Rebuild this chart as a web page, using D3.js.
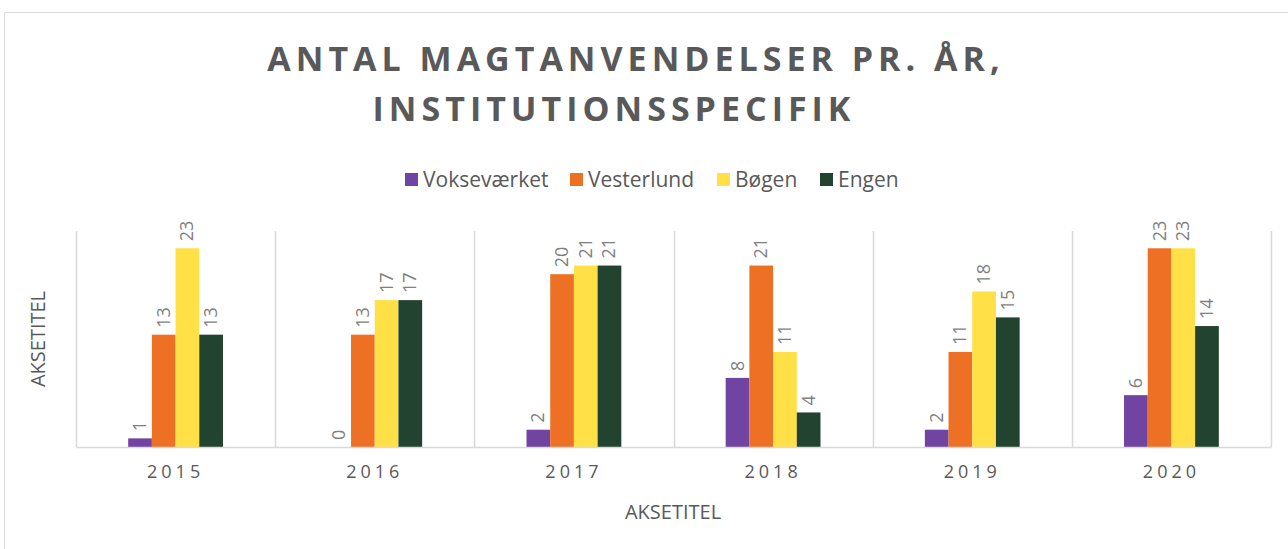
<!DOCTYPE html>
<html>
<head>
<meta charset="utf-8">
<script src="https://cdn.jsdelivr.net/npm/d3@7"></script>
<style>
  body { margin: 0; background: white; }
  text { font-family: "Open Sans", "Liberation Sans", sans-serif; }
</style>
</head>
<body>
<div id="vis"></div>
<script>
var width = 1288;
var height = 549;

var years = ["2015", "2016", "2017", "2018", "2019", "2020"];
var seriesNames = ["Vokseværket", "Vesterlund", "Bøgen", "Engen"];
var vokse = [1, 0, 2, 8, 2, 6];
var vester = [13, 13, 20, 21, 11, 23];
var bogen = [23, 17, 21, 11, 18, 23];
var engen = [13, 17, 21, 4, 15, 14];
var colors = ["#7044a0", "#ee7024", "#ffe046", "#22432f"];

var seriesValues = [vokse, vester, bogen, engen];

var svg = d3.select("#vis")
  .append("svg")
  .attr("width", width)
  .attr("height", height)
  .style("background-color", "white");

// chart frame (cropped)
svg.append("path")
  .attr("d", "M4.5," + height + " L4.5,12.5 L" + width + ",12.5")
  .attr("fill", "none")
  .attr("stroke", "#d9d9d9")
  .attr("stroke-width", 1);

// title
var title = svg.append("text")
  .attr("text-anchor", "middle")
  .attr("fill", "#595959")
  .style("font-size", "34px")
  .style("font-weight", "bold")
  .style("letter-spacing", "5px");
title.append("tspan").attr("x", 636).attr("y", 71).text("ANTAL MAGTANVENDELSER PR. ÅR,");
title.append("tspan").attr("x", 614).attr("y", 121).text("INSTITUTIONSSPECIFIK");

// legend
var legendX = [405, 570, 717, 820];
var legend = svg.selectAll(".legend")
  .data(seriesNames)
  .join("g")
  .attr("class", "legend")
  .attr("transform", (d, i) => `translate(${legendX[i]}, 180)`);
legend.append("rect")
  .attr("x", 0).attr("y", -7)
  .attr("width", 13).attr("height", 13)
  .attr("fill", (d, i) => colors[i]);
legend.append("text")
  .attr("x", 18).attr("y", 7)
  .attr("fill", "#595959")
  .style("font-size", "21px")
  .text(d => d);

// scales
var plotLeft = 76, plotRight = 1271, plotTop = 231, plotBottom = 447;
var x = d3.scaleBand().domain(years).range([plotLeft, plotRight]).padding(0);
var y = d3.scaleLinear().domain([0, 25]).range([plotBottom, plotTop]);
var bw = x.bandwidth() * 0.119;
var x1 = d3.scaleBand().domain(d3.range(4))
  .range([x.bandwidth() / 2 - 2 * bw, x.bandwidth() / 2 + 2 * bw]).padding(0);

// category separators
svg.selectAll(".sep")
  .data(d3.range(years.length + 1))
  .join("line")
  .attr("x1", i => Math.round(plotLeft + i * x.bandwidth()) + 0.5)
  .attr("x2", i => Math.round(plotLeft + i * x.bandwidth()) + 0.5)
  .attr("y1", plotTop).attr("y2", plotBottom)
  .attr("stroke", "#d9d9d9").attr("stroke-width", 1.5);

// bars
var groups = svg.selectAll(".year")
  .data(years)
  .join("g")
  .attr("class", "year")
  .attr("transform", d => `translate(${x(d)}, 0)`);

groups.selectAll("rect")
  .data((d, i) => seriesValues.map((s, k) => ({ k: k, v: s[i] })))
  .join("rect")
  .attr("x", d => x1(d.k))
  .attr("width", x1.bandwidth())
  .attr("y", d => y(d.v))
  .attr("height", d => plotBottom - y(d.v))
  .attr("fill", d => colors[d.k]);

groups.selectAll(".lbl")
  .data((d, i) => seriesValues.map((s, k) => ({ k: k, v: s[i] })))
  .join("text")
  .attr("class", "lbl")
  .attr("transform", d => `translate(${x1(d.k) + x1.bandwidth() / 2 + 6}, ${y(d.v) - 7}) rotate(-90)`)
  .attr("text-anchor", "start")
  .attr("fill", "#7f7f7f")
  .style("font-size", "18px")
  .text(d => d.v);

// x axis
var xAxis = d3.axisBottom(x).tickSize(0).tickPadding(18);
var axis = svg.append("g")
  .attr("transform", `translate(0, ${plotBottom})`)
  .call(xAxis);
axis.select(".domain").attr("stroke", "#d9d9d9").attr("stroke-width", 1.5);
axis.selectAll("text")
  .attr("fill", "#595959")
  .style("font-size", "18px")
  .style("letter-spacing", "4px")
  .style("font-family", "'Open Sans', sans-serif");

// axis titles
svg.append("text")
  .attr("x", 673).attr("y", 519)
  .attr("text-anchor", "middle")
  .attr("fill", "#595959")
  .style("font-size", "20px")
  .text("AKSETITEL");
svg.append("text")
  .attr("transform", "translate(45, 339) rotate(-90)")
  .attr("text-anchor", "middle")
  .attr("fill", "#595959")
  .style("font-size", "20px")
  .text("AKSETITEL");
</script>
</body>
</html>
